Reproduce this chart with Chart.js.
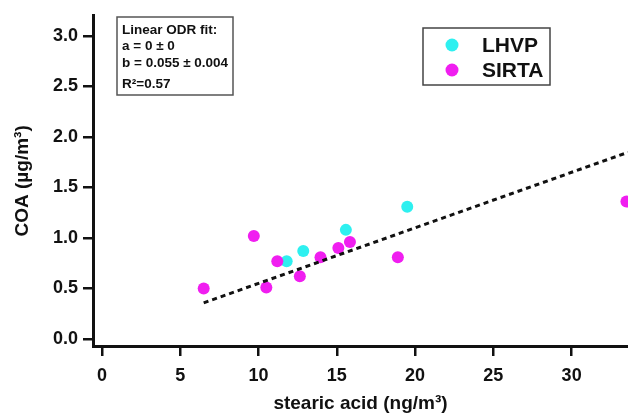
<!DOCTYPE html>
<html>
<head>
<meta charset="utf-8">
<script src="https://cdn.jsdelivr.net/npm/chart.js@4"></script>
<style>
  html, body { margin: 0; padding: 0; background: #fff; }
  #wrap { width: 628px; height: 416px; position: relative; }
</style>
</head>
<body>
<div id="wrap"><canvas id="c" width="628" height="416"></canvas></div>
<script>
// ---- data ----
const xTickValues = [0, 5, 10, 15, 20, 25, 30];
const yTickValues = [0, 0.5, 1.0, 1.5, 2.0, 2.5, 3.0];

const lhvpX = [11.8, 12.86, 15.58, 19.5];
const lhvpY = [0.77, 0.87, 1.08, 1.31];

const sirtaX = [6.5, 9.7, 10.5, 11.2, 12.64, 13.96, 15.1, 15.84, 18.9, 33.5];
const sirtaY = [0.50, 1.02, 0.51, 0.77, 0.62, 0.81, 0.90, 0.96, 0.81, 1.36];

const fitA = 0;
const fitB = 0.055;
const fitLines = ["Linear ODR fit:", "a = 0 \u00b1 0", "b = 0.055 \u00b1 0.004", "R\u00b2=0.57"];

const seriesNames = ["LHVP", "SIRTA"];
const seriesColors = ["#2ef0f0", "#f01ef0"];

const xMin = -0.57, xMax = 33.6;
const yMin = -0.07, yMax = 3.2;

const FONT = "'Liberation Sans', Arial, sans-serif";

const toPts = (xs, ys) => xs.map((x, i) => ({ x: x, y: ys[i] }));
const fitStart = Math.min(...lhvpX, ...sirtaX);
const fitPts = [fitStart, xMax].map(x => ({ x: x, y: fitA + fitB * x }));

const annotPlugin = {
  id: 'annot',
  afterDraw(chart) {
    const ctx = chart.ctx;
    ctx.save();
    // fit box
    ctx.fillStyle = '#fff';
    ctx.fillRect(117, 17, 116, 78);
    ctx.strokeStyle = '#555';
    ctx.lineWidth = 1.5;
    ctx.strokeRect(117, 17, 116, 78);
    ctx.fillStyle = '#111';
    ctx.font = 'bold 13.5px ' + FONT;
    ctx.textBaseline = 'alphabetic';
    ctx.textAlign = 'left';
    ctx.fillText(fitLines[0], 122, 34);
    ctx.fillText(fitLines[1], 122, 50);
    ctx.fillText(fitLines[2], 122, 67);
    ctx.fillText(fitLines[3], 122, 88);

    // legend box
    ctx.fillStyle = '#fff';
    ctx.fillRect(423, 28, 127, 57);
    ctx.strokeStyle = '#444';
    ctx.lineWidth = 1.5;
    ctx.strokeRect(423, 28, 127, 57);
    const rows = [45, 70];
    ctx.font = 'bold 21px ' + FONT;
    ctx.textBaseline = 'middle';
    seriesNames.forEach((n, i) => {
      ctx.fillStyle = seriesColors[i];
      ctx.beginPath();
      ctx.arc(452, rows[i], 6.5, 0, Math.PI * 2);
      ctx.fill();
      ctx.fillStyle = '#111';
      ctx.fillText(n, 482, rows[i] + 1);
    });
    ctx.restore();
  }
};

new Chart(document.getElementById('c'), {
  type: 'scatter',
  data: {
    datasets: [
      {
        type: 'line',
        label: 'fit',
        data: fitPts,
        borderColor: '#111',
        borderWidth: 3,
        borderDash: [5, 4],
        pointRadius: 0,
        fill: false,
        clip: false
      },
      {
        label: seriesNames[1],
        data: toPts(sirtaX, sirtaY),
        backgroundColor: seriesColors[1],
        borderWidth: 0,
        pointRadius: 6,
        clip: false
      },
      {
        label: seriesNames[0],
        data: toPts(lhvpX, lhvpY),
        backgroundColor: seriesColors[0],
        borderWidth: 0,
        pointRadius: 6,
        clip: false
      }
    ]
  },
  options: {
    responsive: false,
    animation: false,
    devicePixelRatio: 1,
    layout: { autoPadding: false, padding: { top: 12, right: 0, left: 0, bottom: 0 } },
    plugins: { legend: { display: false }, tooltip: { enabled: false } },
    scales: {
      x: {
        type: 'linear',
        min: xMin, max: xMax,
        afterBuildTicks: s => { s.ticks = xTickValues.map(v => ({ value: v })); },
        afterFit: s => { s.height = 70; },
        grid: { drawOnChartArea: false, drawTicks: true, tickLength: 10, color: '#111', lineWidth: 2.5 },
        border: { display: true, color: '#111', width: 3 },
        ticks: { color: '#111', font: { family: FONT, size: 18, weight: 'bold' }, padding: 9, maxRotation: 0,
                 callback: v => String(v) },
        title: { display: true, text: 'stearic acid (ng/m\u00b3)', color: '#111',
                 font: { family: FONT, size: 19, weight: 'bold' }, padding: 1 }
      },
      y: {
        type: 'linear',
        min: yMin, max: yMax,
        afterBuildTicks: s => { s.ticks = yTickValues.map(v => ({ value: v })); },
        afterFit: s => { s.width = 93; },
        grid: { drawOnChartArea: false, drawTicks: true, tickLength: 10, color: '#111', lineWidth: 2.5 },
        border: { display: true, color: '#111', width: 3 },
        ticks: { color: '#111', font: { family: FONT, size: 18, weight: 'bold' }, padding: 5,
                 callback: v => Number(v).toFixed(1) },
        title: { display: true, text: 'COA (\u00b5g/m\u00b3)', color: '#111',
                 font: { family: FONT, size: 19, weight: 'bold' }, padding: 11 }
      }
    }
  },
  plugins: [annotPlugin]
});
</script>
</body>
</html>
